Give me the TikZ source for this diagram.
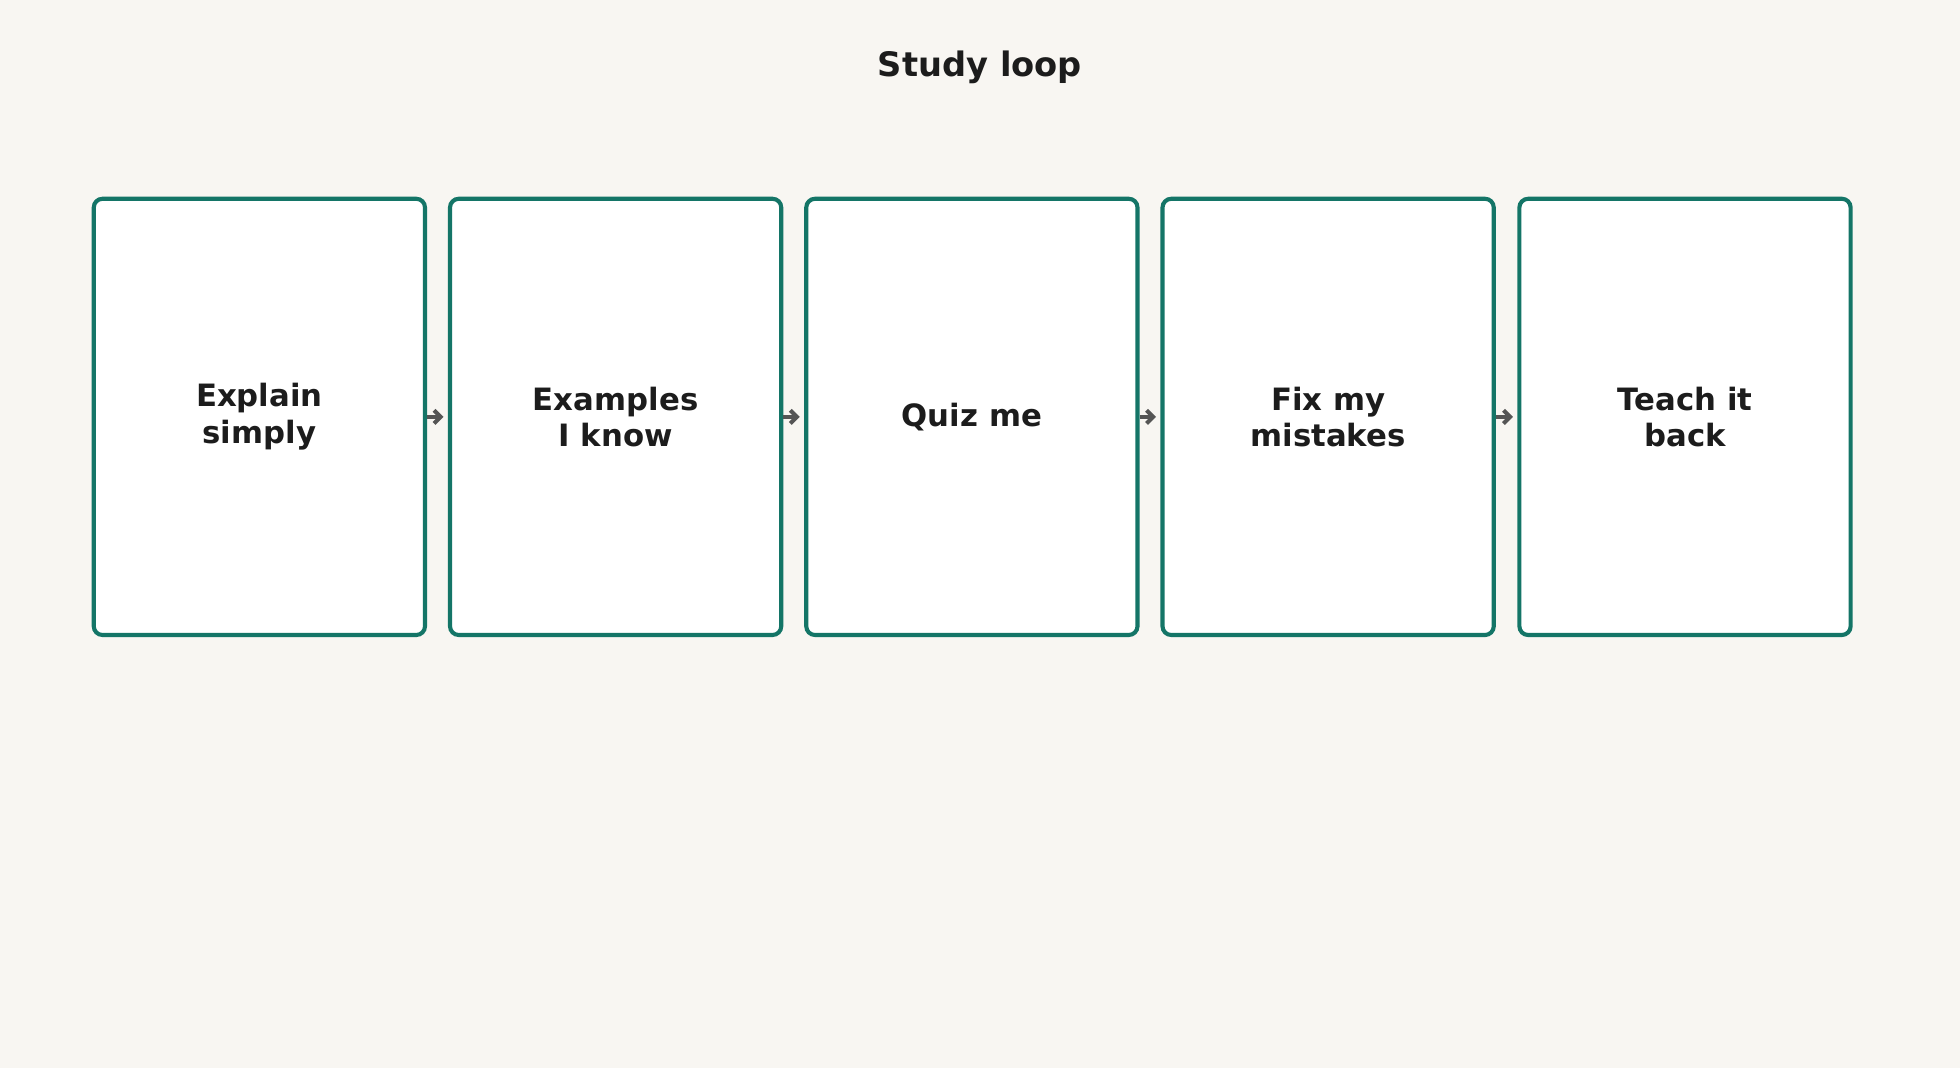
\documentclass[tikz,border=0pt]{standalone}
\usepackage{fontspec}
\setmainfont{DejaVu Sans}
\usetikzlibrary{arrows.meta}
\definecolor{bg}{HTML}{F8F6F2}
\definecolor{teal}{HTML}{147567}
\definecolor{ink}{HTML}{1C1C1C}
\definecolor{arr}{HTML}{555555}
\begin{document}
\begin{tikzpicture}[x=0.03cm,y=-0.03cm,
  box/.style={draw=teal,line width=2.8pt,fill=white,rounded corners=6pt,minimum width=265*0.03cm,minimum height=349*0.03cm,inner sep=0pt,align=center,font=\bfseries\fontsize{21}{25}\selectfont,text=ink},
  con/.style={draw=arr,line width=2.8pt,-{Straight Barb[length=4.5pt,width=9pt]}}]
\path[fill=bg] (0,0) rectangle (1568,854);
\useasboundingbox (0,0) rectangle (1568,854);
\node[font=\bfseries\fontsize{23}{27}\selectfont,text=ink] (t) at (784,54) {Study loop};
\node[box] (a) at (207.5,333.5) {Explain\\simply};
\node[box] (b) at (492.5,333.5) {Examples\\I know};
\node[box] (c) at (777.5,333.5) {Quiz me};
\node[box] (d) at (1062.5,333.5) {Fix my\\mistakes};
\node[box] (e) at (1348,333.5) {Teach it\\back};
\draw[con] (a.east) -- ([xshift=-3]b.west);
\draw[con] (b.east) -- ([xshift=-3]c.west);
\draw[con] (c.east) -- ([xshift=-3]d.west);
\draw[con] (d.east) -- ([xshift=-3]e.west);
\end{tikzpicture}
\end{document}
